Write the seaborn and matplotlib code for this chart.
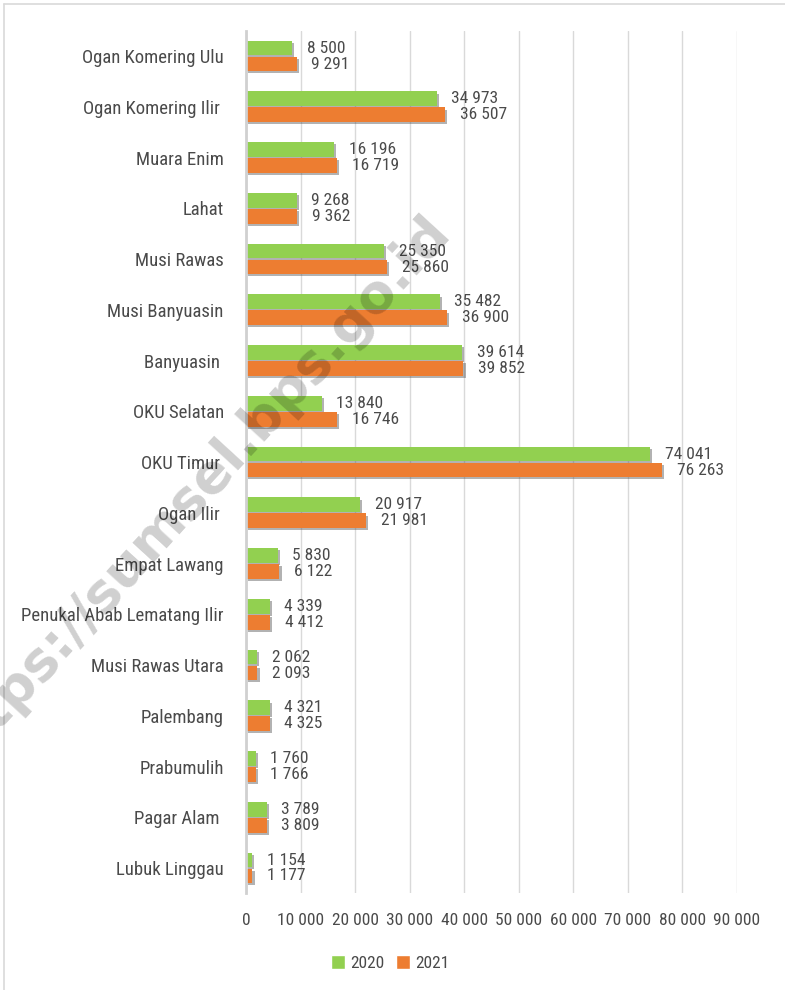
import pandas as pd
import numpy as np
import matplotlib.pyplot as plt
import matplotlib.patheffects as pe
from matplotlib import font_manager as fm
from matplotlib.lines import Line2D
from matplotlib.patches import Patch
import seaborn as sns

# data
regions = ['Ogan Komering Ulu', 'Ogan Komering Ilir ', 'Muara Enim', 'Lahat', 'Musi Rawas',
           'Musi Banyuasin', 'Banyuasin ', 'OKU Selatan', 'OKU Timur ', 'Ogan Ilir ',
           'Empat Lawang', 'Penukal Abab Lematang Ilir', 'Musi Rawas Utara', 'Palembang',
           'Prabumulih', 'Pagar Alam ', 'Lubuk Linggau']
vals_2020 = [8500, 34973, 16196, 9268, 25350, 35482, 39614, 13840, 74041, 20917,
             5830, 4339, 2062, 4321, 1760, 3789, 1154]
vals_2021 = [9291, 36507, 16719, 9362, 25860, 36900, 39852, 16746, 76263, 21981,
             6122, 4412, 2093, 4325, 1766, 3809, 1177]
years = ['2020', '2021']
colors = ['#92d050', '#ed7d31']
x_ticks = [0, 10000, 20000, 30000, 40000, 50000, 60000, 70000, 80000, 90000]

df = pd.DataFrame({
    'region': regions * 2,
    'value': vals_2020 + vals_2021,
    'year': [years[0]] * len(regions) + [years[1]] * len(regions),
})


def has_font(name):
    try:
        fm.findfont(fm.FontProperties(family=name), fallback_to_default=False)
        return True
    except Exception:
        return False


# the original uses a condensed face; take one if present, else a narrow-ish sans
if has_font('Roboto Condensed'):
    main_font, cat_size, num_size = 'Roboto Condensed', 13.5, 12.5
elif has_font('Liberation Sans Narrow'):
    main_font, cat_size, num_size = 'Liberation Sans Narrow', 13.5, 12.5
else:
    main_font, cat_size, num_size = 'Liberation Sans', 11.8, 10.8

sns.set_theme(style='white')
plt.rcParams['font.family'] = [main_font, 'DejaVu Sans']
txt = '#4a4a4a'

fig = plt.figure(figsize=(7.85, 9.9), dpi=100)
ax = fig.add_axes([0.3134, 0.0976, 0.9389 - 0.3134, 0.969 - 0.0976])

sns.barplot(data=df, y='region', x='value', hue='year', hue_order=years,
            palette=colors, orient='h', width=0.63, gap=0.08, ax=ax,
            saturation=1, legend=False, order=regions)

shadow = [pe.SimplePatchShadow(offset=(1.5, -1.5), shadow_rgbFace='#555555', alpha=0.45), pe.Normal()]
for cont in ax.containers:
    for bar in cont:
        bar.set_path_effects(shadow)
        bar.set_edgecolor('none')


def fmt(v):
    return f'{v:,}'.replace(',', ' ')


for cont, vals in zip(ax.containers, [vals_2020, vals_2021]):
    ax.bar_label(cont, labels=[fmt(v) for v in vals], padding=10.5,
                 fontsize=num_size, color=txt)

ax.set_xlim(0, 90000)
ax.set_xticks(x_ticks)
ax.set_xticklabels([fmt(t) for t in x_ticks], fontsize=num_size, color=txt)
ax.tick_params(axis='x', length=0, pad=14)
ax.tick_params(axis='y', length=0, pad=16, labelsize=cat_size, labelcolor=txt)
ax.set_xlabel('')
ax.set_ylabel('')
ax.xaxis.grid(True, color='#d9d9d9', lw=1)
ax.set_axisbelow(True)
for s in ['top', 'right', 'bottom']:
    ax.spines[s].set_visible(False)
ax.spines['left'].set_color('#d0d0d0')
ax.spines['left'].set_linewidth(2)

handles = [Patch(facecolor=c, label=y) for c, y in zip(colors, years)]
leg = fig.legend(handles=handles, loc='center', bbox_to_anchor=(0.497, 0.027), ncol=2,
                 frameon=False, fontsize=num_size, handlelength=0.8, handleheight=0.8,
                 handletextpad=0.3, columnspacing=0.7)
for t in leg.get_texts():
    t.set_color(txt)

# outer frame
fig.add_artist(Line2D([4 / 785, 4 / 785], [0, 1 - 4 / 990], transform=fig.transFigure, color='#d9d9d9', lw=1.2))
fig.add_artist(Line2D([4 / 785, 1], [1 - 4 / 990, 1 - 4 / 990], transform=fig.transFigure, color='#d9d9d9', lw=1.2))

# watermark
fig.text(0.244, 0.500, 'https://sumsel.bps.go.id', rotation=47.5, ha='center', va='center',
         fontsize=38.8, fontweight='bold', color='black', alpha=0.19,
         family=['DejaVu Sans'], rotation_mode='anchor', zorder=10)

fig.savefig('out.png', dpi=100)
